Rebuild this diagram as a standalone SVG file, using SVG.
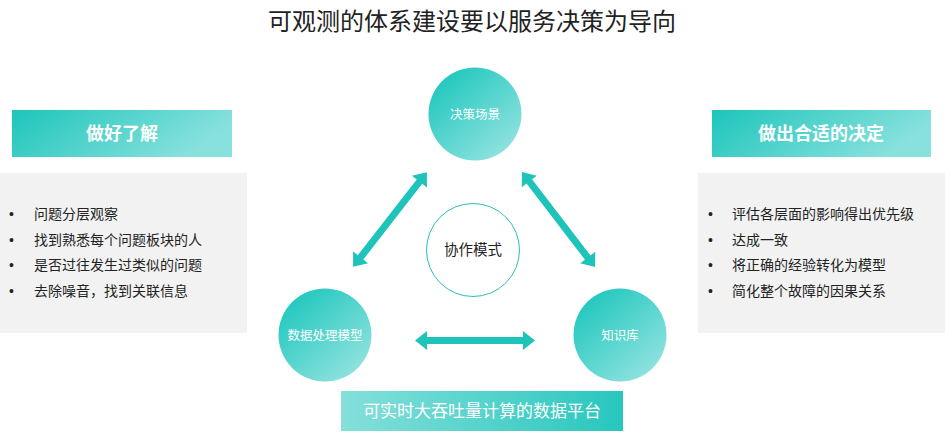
<svg xmlns="http://www.w3.org/2000/svg" width="945" height="432" viewBox="0 0 945 432">
<defs>
<linearGradient id="hdr" x1="0" y1="0" x2="1" y2="0.3">
<stop offset="0" stop-color="#1dc5bb"/>
<stop offset="1" stop-color="#88e1dd"/>
</linearGradient>
<linearGradient id="plat" x1="0" y1="0" x2="1" y2="0">
<stop offset="0" stop-color="#86dfdb"/>
<stop offset="1" stop-color="#27c7be"/>
</linearGradient>
<linearGradient id="circ" x1="0.15" y1="0.1" x2="0.85" y2="0.9">
<stop offset="0" stop-color="#22c8bf"/>
<stop offset="1" stop-color="#90e2de"/>
</linearGradient>
<style>
text{font-family:"Microsoft YaHei","Noto Sans CJK SC",sans-serif}
.title{font-size:24px;fill:#222}
.hdr{font-size:18px;font-weight:bold;fill:#fff}
.li{font-size:14px;fill:#222}
.bu{font-family:"Liberation Sans",sans-serif;font-size:14px}
.cl{font-size:12.5px;fill:#fff}
.arrow{fill:#1ec3ba}
</style>
</defs>
<rect width="945" height="432" fill="#fff"/>
<text class="title" x="472" y="30" text-anchor="middle">可观测的体系建设要以服务决策为导向</text>

<g id="left-header">
<rect x="12" y="110" width="220" height="47" fill="url(#hdr)"/>
<text class="hdr" x="122" y="140" text-anchor="middle">做好了解</text>
</g>
<g id="left-list">
<rect x="0" y="173" width="247" height="160" fill="#f2f2f2"/>
<g class="li">
<text class="bu" x="9" y="219">•</text><text x="34" y="219">问题分层观察</text>
<text class="bu" x="9" y="245">•</text><text x="34" y="245">找到熟悉每个问题板块的人</text>
<text class="bu" x="9" y="270">•</text><text x="34" y="270">是否过往发生过类似的问题</text>
<text class="bu" x="9" y="296">•</text><text x="34" y="296">去除噪音，找到关联信息</text>
</g>
</g>

<g id="right-header">
<rect x="712" y="110" width="219" height="47" fill="url(#hdr)"/>
<text class="hdr" x="821" y="140" text-anchor="middle">做出合适的决定</text>
</g>
<g id="right-list">
<rect x="698" y="173" width="247" height="160" fill="#f2f2f2"/>
<g class="li">
<text class="bu" x="708" y="219">•</text><text x="732" y="219">评估各层面的影响得出优先级</text>
<text class="bu" x="708" y="245">•</text><text x="732" y="245">达成一致</text>
<text class="bu" x="708" y="270">•</text><text x="732" y="270">将正确的经验转化为模型</text>
<text class="bu" x="708" y="296">•</text><text x="732" y="296">简化整个故障的因果关系</text>
</g>
</g>

<g id="connectors">
<polygon class="arrow" transform="translate(390 219.5) rotate(-52.1)" points="-60,0 -48,-9.5 -48,-3.5 48,-3.5 48,-9.5 60,0 48,9.5 48,3.5 -48,3.5 -48,9.5"/>
<polygon class="arrow" transform="translate(558.5 219.5) rotate(52.5)" points="-60,0 -48,-9.5 -48,-3.5 48,-3.5 48,-9.5 60,0 48,9.5 48,3.5 -48,3.5 -48,9.5"/>
<polygon class="arrow" transform="translate(475 340.5)" points="-60,0 -48,-9.5 -48,-3.5 48,-3.5 48,-9.5 60,0 48,9.5 48,3.5 -48,3.5 -48,9.5"/>
</g>

<g id="node-decision">
<circle cx="475" cy="114" r="46.5" fill="url(#circ)"/>
<text class="cl" x="475" y="118.5" text-anchor="middle">决策场景</text>
</g>
<g id="node-data">
<circle cx="325" cy="335" r="46.5" fill="url(#circ)"/>
<text class="cl" x="325" y="339.5" text-anchor="middle">数据处理模型</text>
</g>
<g id="node-knowledge">
<circle cx="620" cy="335" r="46.5" fill="url(#circ)"/>
<text class="cl" x="620" y="339.5" text-anchor="middle">知识库</text>
</g>
<g id="node-collab">
<circle cx="473" cy="250" r="46.5" fill="#fff" stroke="#2bbfb6" stroke-width="1"/>
<text x="473" y="255" text-anchor="middle" font-size="14.5" fill="#222">协作模式</text>
</g>
<g id="node-platform">
<rect x="341" y="391" width="282" height="40" fill="url(#plat)"/>
<text x="482" y="417" text-anchor="middle" font-size="17" fill="#fff">可实时大吞吐量计算的数据平台</text>
</g>
</svg>
